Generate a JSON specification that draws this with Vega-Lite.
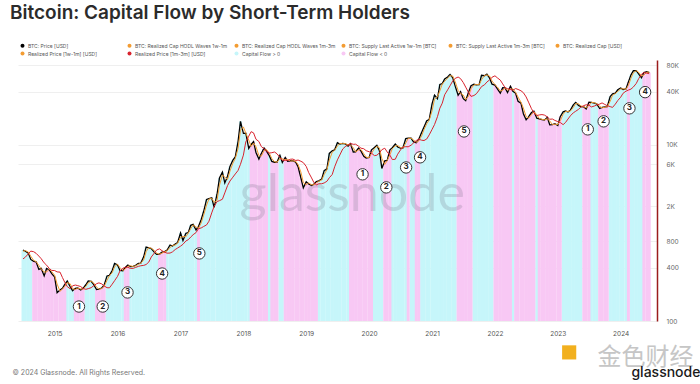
{
"$schema": "https://vega.github.io/schema/vega-lite/v6.json",
"width": 639,
"height": 261,
"autosize": {"type": "none"},
"padding": {"left": 18, "top": 60, "right": 43, "bottom": 63},
"background": "white",
"title": {"text": "Bitcoin: Capital Flow by Short-Term Holders", "anchor": "start", "frame": "group", "dx": -8, "offset": 20, "fontSize": 19, "fontWeight": 600, "font": "Inter", "color": "#2b2b2b"},
"config": {"view": {"stroke": null}, "font": "Inter"},
"datasets": {
"btc": [
{"d":"2014-07-01","p":640,"a":620,"b":507,"f":1},
{"d":"2014-07-15","p":620,"a":630,"b":532,"f":1},
{"d":"2014-08-01","p":590,"a":605,"b":580,"f":1},
{"d":"2014-08-15","p":500,"a":545,"b":622,"f":1},
{"d":"2014-09-01","p":475,"a":488,"b":612,"f":-1},
{"d":"2014-09-15","p":470,"a":473,"b":587,"f":-1},
{"d":"2014-10-01","p":385,"a":428,"b":546,"f":-1},
{"d":"2014-10-15","p":395,"a":390,"b":509,"f":-1},
{"d":"2014-11-01","p":325,"a":360,"b":457,"f":-1},
{"d":"2014-11-15","p":395,"a":360,"b":431,"f":-1},
{"d":"2014-12-01","p":380,"a":388,"b":394,"f":-1},
{"d":"2014-12-15","p":345,"a":363,"b":375,"f":-1},
{"d":"2015-01-01","p":315,"a":330,"b":374,"f":-1},
{"d":"2015-01-15","p":210,"a":263,"b":361,"f":-1},
{"d":"2015-02-01","p":225,"a":218,"b":359,"f":-1},
{"d":"2015-02-15","p":235,"a":230,"b":312,"f":-1},
{"d":"2015-03-01","p":260,"a":248,"b":274,"f":-1},
{"d":"2015-03-15","p":285,"a":273,"b":246,"f":1},
{"d":"2015-04-01","p":245,"a":265,"b":232,"f":1},
{"d":"2015-04-15","p":220,"a":233,"b":251,"f":1},
{"d":"2015-05-01","p":235,"a":228,"b":256,"f":-1},
{"d":"2015-05-15","p":237,"a":236,"b":252,"f":-1},
{"d":"2015-06-01","p":225,"a":231,"b":246,"f":-1},
{"d":"2015-06-15","p":235,"a":230,"b":234,"f":-1},
{"d":"2015-07-01","p":258,"a":247,"b":229,"f":1},
{"d":"2015-07-15","p":285,"a":272,"b":233,"f":1},
{"d":"2015-08-01","p":282,"a":284,"b":239,"f":1},
{"d":"2015-08-15","p":260,"a":271,"b":251,"f":1},
{"d":"2015-09-01","p":228,"a":244,"b":265,"f":-1},
{"d":"2015-09-15","p":230,"a":229,"b":271,"f":-1},
{"d":"2015-10-01","p":237,"a":234,"b":264,"f":-1},
{"d":"2015-10-15","p":255,"a":246,"b":250,"f":-1},
{"d":"2015-11-01","p":325,"a":290,"b":239,"f":1},
{"d":"2015-11-15","p":330,"a":328,"b":238,"f":1},
{"d":"2015-12-01","p":375,"a":353,"b":262,"f":1},
{"d":"2015-12-15","p":450,"a":413,"b":287,"f":1},
{"d":"2016-01-01","p":432,"a":441,"b":321,"f":1},
{"d":"2016-01-15","p":375,"a":404,"b":370,"f":1},
{"d":"2016-02-01","p":372,"a":374,"b":397,"f":1},
{"d":"2016-02-15","p":405,"a":389,"b":408,"f":-1},
{"d":"2016-03-01","p":432,"a":419,"b":407,"f":-1},
{"d":"2016-03-15","p":415,"a":424,"b":396,"f":1},
{"d":"2016-04-01","p":417,"a":416,"b":396,"f":1},
{"d":"2016-04-15","p":430,"a":424,"b":406,"f":1},
{"d":"2016-05-01","p":450,"a":440,"b":417,"f":1},
{"d":"2016-05-15","p":455,"a":453,"b":424,"f":1},
{"d":"2016-06-01","p":535,"a":495,"b":428,"f":1},
{"d":"2016-06-15","p":690,"a":613,"b":438,"f":1},
{"d":"2016-07-01","p":675,"a":683,"b":468,"f":1},
{"d":"2016-07-15","p":665,"a":670,"b":533,"f":1},
{"d":"2016-08-01","p":605,"a":635,"b":589,"f":1},
{"d":"2016-08-15","p":570,"a":588,"b":641,"f":1},
{"d":"2016-09-01","p":575,"a":573,"b":659,"f":-1},
{"d":"2016-09-15","p":605,"a":590,"b":629,"f":-1},
{"d":"2016-10-01","p":615,"a":610,"b":604,"f":-1},
{"d":"2016-10-15","p":640,"a":628,"b":589,"f":1},
{"d":"2016-11-01","p":730,"a":685,"b":591,"f":1},
{"d":"2016-11-15","p":710,"a":720,"b":609,"f":1},
{"d":"2016-12-01","p":750,"a":730,"b":648,"f":1},
{"d":"2016-12-15","p":780,"a":765,"b":674,"f":1},
{"d":"2017-01-01","p":1000,"a":890,"b":708,"f":1},
{"d":"2017-01-15","p":820,"a":910,"b":743,"f":1},
{"d":"2017-02-01","p":990,"a":905,"b":810,"f":1},
{"d":"2017-02-15","p":1010,"a":1000,"b":838,"f":1},
{"d":"2017-03-01","p":1220,"a":1115,"b":898,"f":1},
{"d":"2017-03-15","p":1250,"a":1235,"b":955,"f":1},
{"d":"2017-04-01","p":1080,"a":1165,"b":1010,"f":1},
{"d":"2017-04-15","p":1180,"a":1130,"b":1118,"f":-1},
{"d":"2017-05-01","p":1420,"a":1300,"b":1140,"f":1},
{"d":"2017-05-15","p":1750,"a":1585,"b":1183,"f":1},
{"d":"2017-06-01","p":2400,"a":2075,"b":1233,"f":1},
{"d":"2017-06-15","p":2450,"a":2425,"b":1358,"f":1},
{"d":"2017-07-01","p":2500,"a":2475,"b":1688,"f":1},
{"d":"2017-07-15","p":1950,"a":2225,"b":2005,"f":1},
{"d":"2017-08-01","p":2750,"a":2350,"b":2275,"f":1},
{"d":"2017-08-15","p":4200,"a":3475,"b":2325,"f":1},
{"d":"2017-09-01","p":4900,"a":4550,"b":2413,"f":1},
{"d":"2017-09-15","p":3700,"a":4300,"b":2850,"f":1},
{"d":"2017-10-01","p":4400,"a":4050,"b":3450,"f":1},
{"d":"2017-10-15","p":5700,"a":5050,"b":3888,"f":1},
{"d":"2017-11-01","p":6700,"a":6200,"b":4300,"f":1},
{"d":"2017-11-15","p":7300,"a":7000,"b":4675,"f":1},
{"d":"2017-12-01","p":10900,"a":9100,"b":5125,"f":1},
{"d":"2017-12-15","p":18500,"a":14700,"b":6025,"f":1},
{"d":"2018-01-01","p":13500,"a":16000,"b":7650,"f":1},
{"d":"2018-01-15","p":13600,"a":13550,"b":10850,"f":1},
{"d":"2018-02-01","p":9100,"a":11350,"b":12550,"f":1},
{"d":"2018-02-15","p":10100,"a":9600,"b":14125,"f":-1},
{"d":"2018-03-01","p":10900,"a":10500,"b":13675,"f":-1},
{"d":"2018-03-15","p":8200,"a":9550,"b":11575,"f":-1},
{"d":"2018-04-01","p":6900,"a":7550,"b":10925,"f":-1},
{"d":"2018-04-15","p":8000,"a":7450,"b":9575,"f":-1},
{"d":"2018-05-01","p":9200,"a":8600,"b":9025,"f":-1},
{"d":"2018-05-15","p":8500,"a":8850,"b":8500,"f":-1},
{"d":"2018-06-01","p":7500,"a":8000,"b":8075,"f":1},
{"d":"2018-06-15","p":6500,"a":7000,"b":8150,"f":-1},
{"d":"2018-07-01","p":6350,"a":6425,"b":8300,"f":-1},
{"d":"2018-07-15","p":6350,"a":6350,"b":7925,"f":-1},
{"d":"2018-08-01","p":7600,"a":6975,"b":7213,"f":1},
{"d":"2018-08-15","p":6300,"a":6950,"b":6675,"f":1},
{"d":"2018-09-01","p":7200,"a":6750,"b":6700,"f":-1},
{"d":"2018-09-15","p":6500,"a":6850,"b":6650,"f":-1},
{"d":"2018-10-01","p":6600,"a":6550,"b":6863,"f":-1},
{"d":"2018-10-15","p":6600,"a":6600,"b":6900,"f":-1},
{"d":"2018-11-01","p":6350,"a":6475,"b":6650,"f":-1},
{"d":"2018-11-15","p":5600,"a":5975,"b":6725,"f":-1},
{"d":"2018-12-01","p":4200,"a":4900,"b":6513,"f":-1},
{"d":"2018-12-15","p":3250,"a":3725,"b":6288,"f":-1},
{"d":"2019-01-01","p":3800,"a":3525,"b":5688,"f":-1},
{"d":"2019-01-15","p":3600,"a":3700,"b":4850,"f":-1},
{"d":"2019-02-01","p":3450,"a":3525,"b":4213,"f":-1},
{"d":"2019-02-15","p":3600,"a":3525,"b":3713,"f":-1},
{"d":"2019-03-01","p":3830,"a":3715,"b":3525,"f":-1},
{"d":"2019-03-15","p":3900,"a":3865,"b":3613,"f":1},
{"d":"2019-04-01","p":4100,"a":4000,"b":3620,"f":1},
{"d":"2019-04-15","p":5100,"a":4600,"b":3695,"f":1},
{"d":"2019-05-01","p":5350,"a":5225,"b":3858,"f":1},
{"d":"2019-05-15","p":8000,"a":6675,"b":4233,"f":1},
{"d":"2019-06-01","p":8550,"a":8275,"b":4613,"f":1},
{"d":"2019-06-15","p":8800,"a":8675,"b":5638,"f":1},
{"d":"2019-07-01","p":10600,"a":9700,"b":6750,"f":1},
{"d":"2019-07-15","p":10200,"a":10400,"b":7675,"f":1},
{"d":"2019-08-01","p":10400,"a":10300,"b":8988,"f":1},
{"d":"2019-08-15","p":10300,"a":10350,"b":9538,"f":1},
{"d":"2019-09-01","p":9700,"a":10000,"b":10000,"f":1},
{"d":"2019-09-15","p":10300,"a":10000,"b":10375,"f":-1},
{"d":"2019-10-01","p":8300,"a":9300,"b":10150,"f":-1},
{"d":"2019-10-15","p":8350,"a":8325,"b":10175,"f":-1},
{"d":"2019-11-01","p":9200,"a":8775,"b":9650,"f":-1},
{"d":"2019-11-15","p":8500,"a":8850,"b":9163,"f":-1},
{"d":"2019-12-01","p":7400,"a":7950,"b":9038,"f":-1},
{"d":"2019-12-15","p":7100,"a":7250,"b":8588,"f":-1},
{"d":"2020-01-01","p":7200,"a":7150,"b":8363,"f":-1},
{"d":"2020-01-15","p":8800,"a":8000,"b":8050,"f":-1},
{"d":"2020-02-01","p":9350,"a":9075,"b":7550,"f":1},
{"d":"2020-02-15","p":9900,"a":9625,"b":7625,"f":1},
{"d":"2020-03-01","p":8600,"a":9250,"b":8113,"f":1},
{"d":"2020-03-15","p":5400,"a":7000,"b":8813,"f":1},
{"d":"2020-04-01","p":6600,"a":6000,"b":9163,"f":-1},
{"d":"2020-04-15","p":6650,"a":6625,"b":8313,"f":-1},
{"d":"2020-05-01","p":8800,"a":7725,"b":7625,"f":-1},
{"d":"2020-05-15","p":9300,"a":9050,"b":6813,"f":1},
{"d":"2020-06-01","p":10200,"a":9750,"b":6863,"f":1},
{"d":"2020-06-15","p":9450,"a":9825,"b":7838,"f":1},
{"d":"2020-07-01","p":9200,"a":9325,"b":8738,"f":1},
{"d":"2020-07-15","p":9200,"a":9200,"b":9438,"f":1},
{"d":"2020-08-01","p":11800,"a":10500,"b":9538,"f":1},
{"d":"2020-08-15","p":11900,"a":11850,"b":9513,"f":-1},
{"d":"2020-09-01","p":11900,"a":11900,"b":9913,"f":1},
{"d":"2020-09-15","p":10800,"a":11350,"b":10525,"f":1},
{"d":"2020-10-01","p":10600,"a":10700,"b":11200,"f":-1},
{"d":"2020-10-15","p":11500,"a":11050,"b":11600,"f":-1},
{"d":"2020-11-01","p":13800,"a":12650,"b":11300,"f":1},
{"d":"2020-11-15","p":16000,"a":14900,"b":11200,"f":1},
{"d":"2020-12-01","p":18800,"a":17400,"b":11675,"f":1},
{"d":"2020-12-15","p":19400,"a":19100,"b":12975,"f":1},
{"d":"2021-01-01","p":29400,"a":24400,"b":15025,"f":1},
{"d":"2021-01-15","p":36800,"a":33100,"b":17000,"f":1},
{"d":"2021-02-01","p":33500,"a":35150,"b":20900,"f":1},
{"d":"2021-02-15","p":48600,"a":41050,"b":26100,"f":1},
{"d":"2021-03-01","p":49600,"a":49100,"b":29775,"f":1},
{"d":"2021-03-15","p":55900,"a":52750,"b":37075,"f":1},
{"d":"2021-04-01","p":59000,"a":57450,"b":42125,"f":1},
{"d":"2021-04-15","p":63100,"a":61050,"b":46900,"f":1},
{"d":"2021-05-01","p":57800,"a":60450,"b":53275,"f":1},
{"d":"2021-05-15","p":46400,"a":52100,"b":56900,"f":1},
{"d":"2021-06-01","p":36600,"a":41500,"b":58950,"f":-1},
{"d":"2021-06-15","p":40200,"a":38400,"b":56575,"f":-1},
{"d":"2021-07-01","p":33500,"a":36850,"b":50975,"f":-1},
{"d":"2021-07-15","p":31800,"a":32650,"b":45250,"f":-1},
{"d":"2021-08-01","p":39900,"a":35850,"b":39175,"f":-1},
{"d":"2021-08-15","p":47000,"a":43450,"b":35525,"f":-1},
{"d":"2021-09-01","p":48800,"a":47900,"b":36350,"f":1},
{"d":"2021-09-15","p":48100,"a":48450,"b":38050,"f":1},
{"d":"2021-10-01","p":48200,"a":48150,"b":41875,"f":1},
{"d":"2021-10-15","p":61600,"a":54900,"b":45950,"f":1},
{"d":"2021-11-01","p":61000,"a":61300,"b":48025,"f":1},
{"d":"2021-11-15","p":63600,"a":62300,"b":51675,"f":1},
{"d":"2021-12-01","p":57200,"a":60400,"b":54725,"f":1},
{"d":"2021-12-15","p":48900,"a":53050,"b":58600,"f":1},
{"d":"2022-01-01","p":47700,"a":48300,"b":60850,"f":-1},
{"d":"2022-01-15","p":43100,"a":45400,"b":57675,"f":-1},
{"d":"2022-02-01","p":38700,"a":40900,"b":54350,"f":-1},
{"d":"2022-02-15","p":44500,"a":41600,"b":49225,"f":-1},
{"d":"2022-03-01","p":44400,"a":44450,"b":44600,"f":-1},
{"d":"2022-03-15","p":39300,"a":41850,"b":43500,"f":-1},
{"d":"2022-04-01","p":46300,"a":42800,"b":42675,"f":-1},
{"d":"2022-04-15","p":40500,"a":43400,"b":41725,"f":1},
{"d":"2022-05-01","p":38500,"a":39500,"b":43625,"f":-1},
{"d":"2022-05-15","p":31300,"a":34900,"b":42625,"f":-1},
{"d":"2022-06-01","p":29800,"a":30550,"b":41150,"f":-1},
{"d":"2022-06-15","p":22600,"a":26200,"b":39150,"f":-1},
{"d":"2022-07-01","p":19300,"a":20950,"b":35025,"f":-1},
{"d":"2022-07-15","p":20800,"a":20050,"b":30550,"f":-1},
{"d":"2022-08-01","p":23300,"a":22050,"b":25750,"f":-1},
{"d":"2022-08-15","p":24100,"a":23700,"b":23125,"f":-1},
{"d":"2022-09-01","p":20100,"a":22100,"b":21500,"f":1},
{"d":"2022-09-15","p":19700,"a":19900,"b":21875,"f":-1},
{"d":"2022-10-01","p":19300,"a":19500,"b":22075,"f":-1},
{"d":"2022-10-15","p":19100,"a":19200,"b":21800,"f":-1},
{"d":"2022-11-01","p":20500,"a":19800,"b":20800,"f":-1},
{"d":"2022-11-15","p":16900,"a":18700,"b":19550,"f":-1},
{"d":"2022-12-01","p":17000,"a":16950,"b":19650,"f":-1},
{"d":"2022-12-15","p":17400,"a":17200,"b":18950,"f":-1},
{"d":"2023-01-01","p":16600,"a":17000,"b":18375,"f":-1},
{"d":"2023-01-15","p":20900,"a":18750,"b":17950,"f":-1},
{"d":"2023-02-01","p":23700,"a":22300,"b":16975,"f":1},
{"d":"2023-02-15","p":24300,"a":24000,"b":17975,"f":1},
{"d":"2023-03-01","p":23600,"a":23950,"b":19650,"f":1},
{"d":"2023-03-15","p":24800,"a":24200,"b":21375,"f":1},
{"d":"2023-04-01","p":28500,"a":26650,"b":23125,"f":1},
{"d":"2023-04-15","p":30400,"a":29450,"b":24100,"f":1},
{"d":"2023-05-01","p":28100,"a":29250,"b":25300,"f":1},
{"d":"2023-05-15","p":27200,"a":27650,"b":26825,"f":1},
{"d":"2023-06-01","p":27000,"a":27100,"b":27950,"f":-1},
{"d":"2023-06-15","p":25600,"a":26300,"b":28550,"f":-1},
{"d":"2023-07-01","p":30600,"a":28100,"b":28175,"f":-1},
{"d":"2023-07-15","p":30300,"a":30450,"b":26975,"f":1},
{"d":"2023-08-01","p":29700,"a":30000,"b":27600,"f":1},
{"d":"2023-08-15","p":29200,"a":29450,"b":28375,"f":1},
{"d":"2023-09-01","p":25900,"a":27550,"b":29050,"f":-1},
{"d":"2023-09-15","p":26600,"a":26250,"b":29950,"f":-1},
{"d":"2023-10-01","p":27000,"a":26800,"b":28775,"f":-1},
{"d":"2023-10-15","p":27100,"a":27050,"b":27850,"f":-1},
{"d":"2023-11-01","p":35400,"a":31250,"b":27175,"f":1},
{"d":"2023-11-15","p":37900,"a":36650,"b":26650,"f":1},
{"d":"2023-12-01","p":38700,"a":38300,"b":29025,"f":1},
{"d":"2023-12-15","p":42200,"a":40450,"b":31850,"f":1},
{"d":"2024-01-01","p":44200,"a":43200,"b":34775,"f":1},
{"d":"2024-01-15","p":42500,"a":43350,"b":38550,"f":1},
{"d":"2024-02-01","p":43100,"a":42800,"b":40750,"f":1},
{"d":"2024-02-15","p":51900,"a":47500,"b":41900,"f":-1},
{"d":"2024-03-01","p":62400,"a":57150,"b":43000,"f":1},
{"d":"2024-03-15","p":69500,"a":65950,"b":45425,"f":1},
{"d":"2024-04-01","p":69700,"a":69600,"b":49975,"f":1},
{"d":"2024-04-15","p":63400,"a":66550,"b":56725,"f":1},
{"d":"2024-05-01","p":57800,"a":60600,"b":63375,"f":1},
{"d":"2024-05-15","p":66200,"a":62000,"b":66250,"f":-1},
{"d":"2024-06-01","p":67700,"a":66950,"b":65100,"f":-1},
{"d":"2024-06-15","p":66100,"a":66900,"b":64275,"f":-1}
],
"notes": [
{"d":"2015-05-22","v":146,"n":"1"},
{"d":"2015-10-07","v":146,"n":"2"},
{"d":"2016-02-28","v":211,"n":"3"},
{"d":"2016-09-16","v":346,"n":"4"},
{"d":"2017-04-20","v":585,"n":"5"},
{"d":"2019-11-24","v":4630,"n":"1"},
{"d":"2020-04-10","v":3290,"n":"2"},
{"d":"2020-08-03","v":5540,"n":"3"},
{"d":"2020-10-23","v":7220,"n":"4"},
{"d":"2021-07-05","v":14200,"n":"5"},
{"d":"2023-06-24","v":15000,"n":"1"},
{"d":"2023-09-24","v":18500,"n":"2"},
{"d":"2024-02-21","v":26000,"n":"3"},
{"d":"2024-05-22","v":39700,"n":"4"}
],
"wm": [{"t":"glassnode"}],
"logo": [{"t":"glassnode"}]
},
"layer": [
{
"data": {"name": "btc"},
"transform": [{"filter": "datum.f > 0"}],
"mark": {"type": "bar", "width": 3, "clip": true},
"encoding": {
"x": {"field": "d", "type": "temporal",
"scale": {"domain": [{"year": 2014, "month": 7, "date": 1}, {"year": 2024, "month": 7, "date": 1}], "nice": false},
"axis": {"values": [{"year":2015,"month":1,"date":1},{"year":2016,"month":1,"date":1},{"year":2017,"month":1,"date":1},{"year":2018,"month":1,"date":1},{"year":2019,"month":1,"date":1},{"year":2020,"month":1,"date":1},{"year":2021,"month":1,"date":1},{"year":2022,"month":1,"date":1},{"year":2023,"month":1,"date":1},{"year":2024,"month":1,"date":1}],
"format": "%Y", "domain": false, "ticks": false, "grid": false, "labelFontSize": 6.5, "labelColor": "#555", "labelPadding": 9, "labelFont": "Inter",
"title": "© 2024 Glassnode. All Rights Reserved.", "titleX": -6, "titleY": 51, "titleAlign": "left", "titleBaseline": "middle", "titleFontSize": 7, "titleFontWeight": "normal", "titleColor": "#777", "titleFont": "Inter"}},
"y": {"field": "p", "type": "quantitative",
"scale": {"type": "log", "domain": [100, 92000], "nice": false, "zero": false},
"axis": {"orient": "right", "values": [100, 400, 800, 2000, 6000, 10000, 40000, 80000],
"labelExpr": "datum.value >= 1000 ? (datum.value / 1000) + 'K' : datum.value",
"domainColor": "#9b1c1c", "domainWidth": 1.5, "ticks": false, "labelPadding": 9, "labelFontSize": 6.5, "labelColor": "#666", "labelFont": "Inter",
"grid": true, "gridColor": "#efefef", "gridWidth": 1,
"title": "金色财经", "titleAngle": 0, "titleX": -12, "titleY": 297, "titleAlign": "center", "titleBaseline": "middle", "titleFontSize": 24, "titleFont": "Noto Sans CJK SC", "titleFontWeight": "normal", "titleColor": "#c6c6c6"}},
"y2": {"datum": 100},
"color": {"datum": "Capital Flow > 0", "type": "nominal",
"scale": {"domain": ["BTC: Price [USD]", "BTC: Realized Cap HODL Waves 1w-1m", "BTC: Realized Cap HODL Waves 1m-3m", "BTC: Supply Last Active 1w-1m [BTC]", "BTC: Supply Last Active 1m-3m [BTC]", "BTC: Realized Cap [USD]", "Realized Price [1w-1m] [USD]", "Realized Price [1m-3m] [USD]", "Capital Flow > 0", "Capital Flow < 0"],
"range": ["#000000", "#f39c32", "#f39c32", "#f39c32", "#f39c32", "#f39c32", "#f39c32", "#d9232e", "#c6f6fa", "#f8c8f4"]},
"legend": {"orient": "none", "legendX": 2, "legendY": -17, "direction": "horizontal", "columns": 6, "gridAlign": "all", "columnPadding": 5, "rowPadding": 2, "symbolType": "circle", "symbolSize": 16, "labelFontSize": 5, "labelColor": "#555", "labelFont": "Inter", "labelOffset": 3, "labelLimit": 200, "title": null,
"encode": {"symbols": {"update": {"fill": {"scale": "color", "field": "value"}, "strokeWidth": {"value": 0}, "opacity": {"value": 1}}}}}}
}
},
{
"data": {"name": "btc"},
"transform": [{"filter": "datum.f < 0"}],
"mark": {"type": "bar", "width": 3, "clip": true},
"encoding": {
"x": {"field": "d", "type": "temporal"},
"y": {"field": "p", "type": "quantitative"},
"y2": {"datum": 100},
"color": {"datum": "Capital Flow < 0", "type": "nominal"}
}
},
{
"data": {"name": "wm"},
"mark": {"type": "text", "fontSize": 52, "font": "Lato", "fontWeight": "normal", "fill": "#6e6e80", "opacity": 0.22, "align": "center", "baseline": "middle"},
"encoding": {
"x": {"datum": {"year": 2019, "month": 9, "date": 25}, "type": "temporal"},
"y": {"datum": 2670, "type": "quantitative"},
"text": {"field": "t"}
}
},
{
"data": {"name": "btc"},
"mark": {"type": "line", "strokeWidth": 1.3, "clip": true},
"encoding": {
"x": {"field": "d", "type": "temporal"},
"y": {"field": "p", "type": "quantitative"},
"color": {"datum": "BTC: Price [USD]", "type": "nominal"}
}
},
{
"data": {"name": "btc"},
"mark": {"type": "line", "strokeWidth": 1, "clip": true},
"encoding": {
"x": {"field": "d", "type": "temporal"},
"y": {"field": "a", "type": "quantitative"},
"color": {"datum": "Realized Price [1w-1m] [USD]", "type": "nominal"}
}
},
{
"data": {"name": "btc"},
"mark": {"type": "line", "strokeWidth": 1, "clip": true},
"encoding": {
"x": {"field": "d", "type": "temporal"},
"y": {"field": "b", "type": "quantitative"},
"color": {"datum": "Realized Price [1m-3m] [USD]", "type": "nominal"}
}
},
{
"data": {"name": "notes"},
"mark": {"type": "point", "shape": "circle", "filled": true, "fill": "white", "stroke": "#333", "strokeWidth": 1, "size": 130, "opacity": 1},
"encoding": {
"x": {"field": "d", "type": "temporal"},
"y": {"field": "v", "type": "quantitative"}
}
},
{
"data": {"name": "notes"},
"mark": {"type": "text", "fontSize": 8, "fontWeight": "bold", "fill": "#222", "align": "center", "baseline": "middle", "font": "Inter"},
"encoding": {
"x": {"field": "d", "type": "temporal"},
"y": {"field": "v", "type": "quantitative"},
"text": {"field": "n"}
}
},
{
"data": {"name": "logo"},
"mark": {"type": "point", "shape": "square", "filled": true, "fill": "#f2b01e", "size": 200, "opacity": 1},
"encoding": {
"x": {"datum": {"year": 2023, "month": 3, "date": 8}, "type": "temporal"},
"y": {"datum": 44, "type": "quantitative"}
}
},
{
"data": {"name": "logo"},
"mark": {"type": "text", "fontSize": 14, "font": "Inter", "fontWeight": 500, "fill": "#1a1a1a", "align": "center", "baseline": "middle"},
"encoding": {
"x": {"datum": {"year": 2024, "month": 9, "date": 20}, "type": "temporal"},
"y": {"datum": 26, "type": "quantitative"},
"text": {"field": "t"}
}
}
]
}
